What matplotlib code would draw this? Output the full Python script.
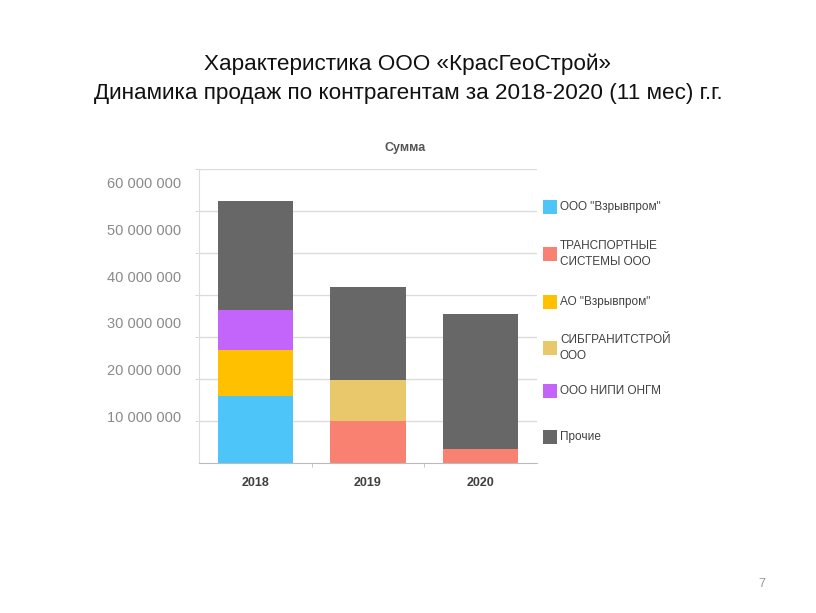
import matplotlib
matplotlib.use("Agg")
import matplotlib.pyplot as plt
from matplotlib.patches import Rectangle
import numpy as np

plt.rcParams['font.family'] = ['Liberation Sans', 'DejaVu Sans']

years = ['2018', '2019', '2020']
series_names = ['ООО "Взрывпром"', 'ТРАНСПОРТНЫЕ\nСИСТЕМЫ ООО', 'АО "Взрывпром"',
                'СИБГРАНИТСТРОЙ\nООО', 'ООО НИПИ ОНГМ', 'Прочие']
colors = ['#4DC5F9', '#F98172', '#FFC000', '#E8C86A', '#C364FA', '#676767']
vzryvprom = [14.3e6, 0, 0]
transport = [0, 8.9e6, 3.0e6]
ao_vzryvprom = [9.9e6, 0, 0]
sibgranit = [0, 8.9e6, 0]
nipi = [8.5e6, 0, 0]
prochie = [23.4e6, 20.0e6, 28.9e6]
series = [vzryvprom, transport, ao_vzryvprom, sibgranit, nipi, prochie]
ytick_vals = [10e6, 20e6, 30e6, 40e6, 50e6, 60e6]
ytick_labels = ['10 000 000', '20 000 000', '30 000 000', '40 000 000', '50 000 000', '60 000 000']
grid_vals = [9e6, 18e6, 27e6, 36e6, 45e6, 54e6, 63e6]

W, H = 816, 613
fig = plt.figure(figsize=(W / 100, H / 100), dpi=100)
fig.patch.set_facecolor('white')

fig.text(0.5, 1 - 64 / H, 'Характеристика ООО «КрасГеоСтрой»', ha='center', va='center',
         fontsize=16.2, color='#111111')
fig.text(0.5, 1 - 93 / H, 'Динамика продаж по контрагентам за 2018-2020 (11 мес) г.г.',
         ha='center', va='center', fontsize=16.2, color='#111111')

ax = fig.add_axes([199 / W, 1 - 463 / H, 338 / W, 294 / H])
x = np.arange(len(years))
bottom = np.zeros(len(years))
for vals, c in zip(series, colors):
    v = np.array(vals)
    ax.bar(x, v, width=0.67, bottom=bottom, color=c, edgecolor='none', zorder=3)
    bottom += v

ax.set_xlim(-0.5, 2.5)
ax.set_ylim(0, 63e6)
ax.set_yticks(ytick_vals)
ax.set_yticklabels(ytick_labels, fontsize=10.5, color='#8A8A8A')
ax.set_yticks(grid_vals, minor=True)
ax.tick_params(axis='y', which='major', length=0, pad=13)
ax.tick_params(axis='y', which='minor', length=3, color='#D0D0D0', direction='out')
ax.grid(axis='y', which='minor', color='#DCDCDC', linewidth=1, zorder=0)
ax.set_xticks(x)
ax.set_xticklabels(years, fontsize=9, fontweight='bold', color='#404040')
ax.set_xticks([0.5, 1.5], minor=True)
ax.tick_params(axis='x', which='major', length=0, pad=10)
ax.tick_params(axis='x', which='minor', length=3, color='#BBBBBB')
for s in ['top', 'right']:
    ax.spines[s].set_visible(False)
ax.spines['left'].set_color('#DCDCDC')
ax.spines['bottom'].set_color('#BBBBBB')
ax.set_facecolor('white')

fig.text(405 / W, 1 - 148 / H, 'Сумма', ha='center', va='center', fontsize=9,
         fontweight='bold', color='#555555')

leg_y = [207, 254, 302, 348, 391, 437]
for name, c, yy in zip(series_names, colors, leg_y):
    fig.add_artist(Rectangle((543 / W, 1 - (yy + 7) / H), 14 / W, 14 / H,
                             transform=fig.transFigure, facecolor=c, edgecolor='none'))
    fig.text(560 / W, 1 - yy / H, name, ha='left', va='center', fontsize=8.5,
             color='#404040', linespacing=1.35)

fig.text(762 / W, 1 - 584 / H, '7', ha='center', va='center', fontsize=9, color='#999999')

fig.savefig('out.png', dpi=100)
